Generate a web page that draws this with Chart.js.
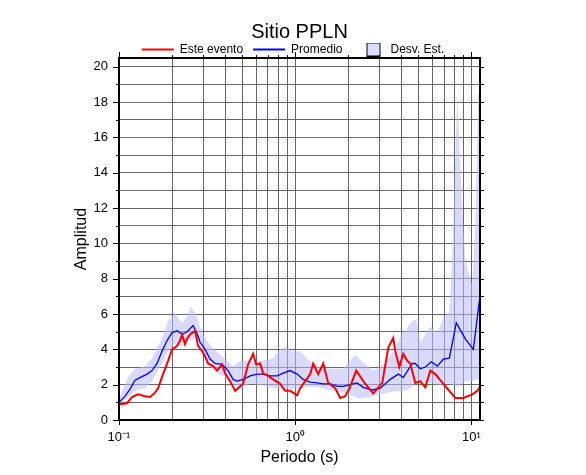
<!DOCTYPE html>
<html>
<head>
<meta charset="utf-8">
<script src="https://cdn.jsdelivr.net/npm/chart.js@4"></script>
<style>
  html, body { margin: 0; padding: 0; background: #fff; }
  #wrap { width: 586px; height: 475px; }
</style>
</head>
<body>
<div id="wrap"><canvas id="c" width="586" height="475"></canvas></div>
<script>
// ---- data ----
const periodsRed = [0.1, 0.104, 0.111, 0.1185, 0.1282, 0.1405, 0.15, 0.1602, 0.1666, 0.1778,
  0.1899, 0.2001, 0.2136, 0.2222, 0.2281, 0.2371, 0.2434, 0.2531, 0.2703, 0.2811,
  0.2962, 0.3081, 0.3204, 0.342, 0.3604, 0.3848, 0.4002, 0.4272, 0.4561, 0.4744,
  0.5064, 0.5406, 0.5772, 0.6003, 0.6326, 0.6579, 0.7024, 0.7499, 0.8219, 0.8774,
  0.9368, 1.026, 1.068, 1.14, 1.217, 1.266, 1.351, 1.443, 1.54, 1.688,
  1.802, 1.924, 2.027, 2.222, 2.434, 2.775, 3.122, 3.377, 3.604, 3.7,
  3.899, 4.108, 4.328, 4.502, 4.806, 5.131, 5.478, 5.849, 6.244, 6.934,
  8.111, 9.006, 10.13, 10.82, 11.25];
const esteEvento = [0.9, 0.9, 0.95, 1.3, 1.45, 1.35, 1.3, 1.55, 1.8, 2.6,
  3.35, 4.0, 4.2, 4.5, 4.85, 4.3, 4.6, 4.85, 5.05, 4.2,
  3.9, 3.6, 3.2, 3.05, 2.8, 3.15, 2.65, 2.2, 1.65, 1.8,
  2.05, 3.15, 3.75, 3.15, 3.2, 2.65, 2.5, 2.3, 2.05, 1.65,
  1.65, 1.4, 1.8, 2.2, 2.6, 3.2, 2.6, 3.2, 2.1, 1.8,
  1.25, 1.35, 1.75, 2.8, 2.2, 1.5, 2.1, 4.1, 4.65, 3.9,
  3.0, 3.75, 3.35, 3.2, 2.1, 2.2, 1.85, 2.8, 2.6, 2.05,
  1.25, 1.25, 1.45, 1.65, 1.9];

const periodsAvg = [0.1, 0.1082, 0.1155, 0.1233, 0.1316, 0.1443, 0.154, 0.1644, 0.1755, 0.1874,
  0.2001, 0.2136, 0.2281, 0.2434, 0.2633, 0.2775, 0.2886, 0.3081, 0.3289, 0.3511,
  0.3848, 0.4163, 0.4444, 0.4682, 0.5064, 0.5552, 0.6083, 0.6579, 0.7211, 0.7902, 0.8548,
  0.9368, 1.026, 1.11, 1.217, 1.3335, 1.443, 1.5808, 1.7552, 1.8738, 2.0535, 2.2505,
  2.434, 2.7384, 3.0403, 3.4661, 3.848, 4.108, 4.6214, 4.806, 5.131, 5.478, 5.9265, 6.41, 6.934, 7.4989,
  8.2181, 9.2456, 10.265, 11.103];
const promedio = [1.0, 1.35, 1.75, 2.25, 2.4, 2.6, 2.8, 3.2, 3.9, 4.5,
  4.95, 5.05, 4.85, 5.0, 5.35, 4.9, 4.4, 4.0, 3.45, 3.2,
  3.15, 2.8, 2.3, 2.2, 2.3, 2.5, 2.6, 2.6, 2.5, 2.5, 2.65,
  2.8, 2.6, 2.3, 2.15, 2.1, 2.05, 2.05, 1.9, 1.9, 2.0, 2.1,
  1.85, 1.7, 1.8, 2.3, 2.6, 2.4, 3.2, 3.2, 2.9, 3.0, 3.3, 3.05, 3.45, 3.5,
  5.5, 4.6, 4.0, 6.75];

const periodsBand = [0.1, 0.1125, 0.1233, 0.1405, 0.154, 0.1755, 0.1899, 0.2081, 0.2281, 0.2466,
  0.2565, 0.2775, 0.2962, 0.3289, 0.3652, 0.4002, 0.4444, 0.487, 0.5552, 0.6579,
  0.7499, 0.8219, 0.8774, 0.9615, 1.068, 1.217, 1.3335, 1.5808, 1.8738, 2.1929,
  2.3409, 2.775, 3.1623, 3.604, 4.0545, 4.328, 4.6214, 4.8697, 5.131, 5.849,
  6.41, 6.934, 7.4989, 7.7993, 8.3256, 8.7747, 9.2456, 10.13, 10.537, 10.959, 11.25];
const desvSup = [1.25, 2.4, 2.9, 3.05, 3.5, 4.65, 5.6, 6.05, 5.5, 5.95,
  6.45, 5.8, 4.9, 4.25, 3.8, 3.45, 3.05, 3.35, 3.3, 3.35,
  3.5, 4.0, 4.1, 3.9, 3.9, 3.3, 3.05, 2.9, 2.9, 3.7,
  3.4, 2.8, 3.1, 3.9, 4.85, 5.2, 5.6, 5.7, 4.4, 5.3,
  4.9, 5.8, 6.1, 9.5, 18.3, 13.0, 9.0, 7.6, 11.0, 18.5, 18.5];
const desvInf = [0.9, 1.25, 1.65, 1.8, 2.2, 3.2, 3.9, 4.3, 4.2, 4.5,
  4.55, 4.65, 3.9, 3.05, 2.6, 2.45, 2.05, 1.75, 2.05, 1.95,
  1.8, 1.75, 1.75, 1.75, 1.8, 1.9, 1.85, 1.7, 1.55, 1.3,
  1.2, 1.35, 1.5, 1.6, 1.65, 1.7, 1.9, 2.1, 2.2, 2.1,
  2.0, 2.0, 2.1, 2.0, 1.9, 2.0, 2.2, 2.2, 2.3, 2.3, 2.3];

const xGridValues = [0.1, 0.2, 0.3, 0.4, 0.5, 0.6, 0.7, 0.8, 0.9, 1, 2, 3, 4, 5, 6, 7, 8, 9, 10];
const xMajorValues = [0.1, 1, 10];
const xTickLabels = ['10\u207B\u00B9', '10\u2070', '10\u00B9'];
const yGridValues = [0,1,2,3,4,5,6,7,8,9,10,11,12,13,14,15,16,17,18,19,20];

// ---- helpers ----
const pts = (xs, ys) => xs.map((x, i) => ({x: x, y: ys[i]}));
const FONT = "'Liberation Sans', Helvetica, Arial, sans-serif";
const BAND_FILL = 'rgba(185,185,250,0.55)';

// legend marker image for the band
const sq = document.createElement('canvas');
sq.width = 30; sq.height = 14;
(function(){
  const g = sq.getContext('2d');
  g.fillStyle = 'rgb(220,220,252)';
  g.fillRect(13, 0.5, 13, 13);
  g.strokeStyle = '#000'; g.lineWidth = 1;
  g.strokeRect(13.5, 0.5, 13, 13);
})();

const framePlugin = {
  id: 'frame',
  afterDraw(chart) {
    const {ctx, chartArea: {left, right, top, bottom}, scales: {x, y}} = chart;
    ctx.save();
    ctx.strokeStyle = '#000';
    ctx.lineWidth = 1;
    ctx.beginPath();
    xGridValues.forEach(v => {
      const px = Math.round(x.getPixelForValue(v)) + 0.5;
      const major = xMajorValues.includes(v);
      ctx.moveTo(px, top); ctx.lineTo(px, top - (major ? 6 : 3));
      if (major) { ctx.moveTo(px, bottom); ctx.lineTo(px, bottom + 5); }
    });
    yGridValues.forEach(v => {
      const py = Math.round(y.getPixelForValue(v)) + 0.5;
      const major = v % 2 === 0;
      ctx.moveTo(left, py); ctx.lineTo(left - (major ? 6 : 3), py);
      ctx.moveTo(right, py); ctx.lineTo(right + 4, py);
    });
    ctx.stroke();
    ctx.lineWidth = 2;
    ctx.strokeRect(left, top, right - left, bottom - top);
    ctx.restore();
  }
};

new Chart(document.getElementById('c'), {
  type: 'line',
  data: {
    datasets: [
      { label: 'Este evento', data: pts(periodsRed, esteEvento), borderColor: '#ff0000', borderWidth: 2,
        pointRadius: 0, fill: false, tension: 0 },
      { label: 'Promedio', data: pts(periodsAvg, promedio), borderColor: '#0000ff', borderWidth: 1.3,
        pointRadius: 0, fill: false, tension: 0 },
      { label: 'Desv. Est.', data: pts(periodsBand, desvSup), borderWidth: 0, borderColor: 'rgba(0,0,0,0)',
        backgroundColor: BAND_FILL, pointRadius: 0, fill: '+1', tension: 0 },
      { label: 'inf', data: pts(periodsBand, desvInf), borderWidth: 0, borderColor: 'rgba(0,0,0,0)',
        pointRadius: 0, fill: false, tension: 0 }
    ]
  },
  options: {
    responsive: false,
    animation: false,
    devicePixelRatio: 1,
    layout: { padding: { left: 0, right: 0, top: 0, bottom: 0 } },
    plugins: {
      title: {
        display: true, text: 'Sitio PPLN', color: '#000', fullSize: false,
        font: { family: FONT, size: 20, weight: 'normal', lineHeight: 1.0 },
        padding: { top: 22.5, bottom: -9 }
      },
      legend: {
        display: true, position: 'top', fullSize: true, maxHeight: 24.5,
        labels: {
          color: '#000', usePointStyle: true, pointStyleWidth: 32, padding: 10,
          font: { family: FONT, size: 12 },
          generateLabels: () => [
            { text: 'Este evento', pointStyle: 'line', strokeStyle: '#ff0000', fillStyle: '#ff0000', lineWidth: 2, hidden: false, datasetIndex: 0 },
            { text: 'Promedio', pointStyle: 'line', strokeStyle: '#0000ff', fillStyle: '#0000ff', lineWidth: 2, hidden: false, datasetIndex: 1 },
            { text: 'Desv. Est.', pointStyle: sq, strokeStyle: '#000', fillStyle: BAND_FILL, lineWidth: 1, hidden: false, datasetIndex: 2 }
          ]
        },
        onClick: () => {}
      },
      tooltip: { enabled: false }
    },
    scales: {
      x: {
        type: 'logarithmic', position: 'bottom', min: 0.1, max: 11.2,
        afterBuildTicks: s => { s.ticks = xGridValues.map(v => ({ value: v })); },
        afterFit: s => { s.height = 55; },
        ticks: {
          autoSkip: false, maxRotation: 0, minRotation: 0, color: '#000', padding: 10,
          font: { family: FONT, size: 13 },
          callback: v => { const i = xMajorValues.indexOf(v); return i >= 0 ? xTickLabels[i] : ''; }
        },
        grid: { color: '#666666', lineWidth: 1, drawTicks: false },
        border: { display: false },
        title: { display: true, text: 'Periodo (s)', color: '#000', font: { family: FONT, size: 16 },
                 padding: { top: 0, bottom: 8 } }
      },
      y: {
        position: 'left', min: 0, max: 20.5,
        afterBuildTicks: s => { s.ticks = yGridValues.map(v => ({ value: v })); },
        afterFit: s => { s.width = 119; },
        ticks: {
          autoSkip: false, color: '#000', padding: 11,
          font: { family: FONT, size: 13 },
          callback: v => (v % 2 === 0 ? String(v) : '')
        },
        grid: { color: '#666666', lineWidth: 1, drawTicks: false },
        border: { display: false },
        title: { display: true, text: 'Amplitud', color: '#000', font: { family: FONT, size: 16 },
                 padding: { top: 72.4, bottom: 0 } }
      },
      y2: {
        position: 'right', min: 0, max: 20.5,
        afterFit: s => { s.width = 106; },
        ticks: { display: false },
        grid: { drawOnChartArea: false, drawTicks: false },
        border: { display: false }
      }
    }
  },
  plugins: [framePlugin]
});
</script>
</body>
</html>
